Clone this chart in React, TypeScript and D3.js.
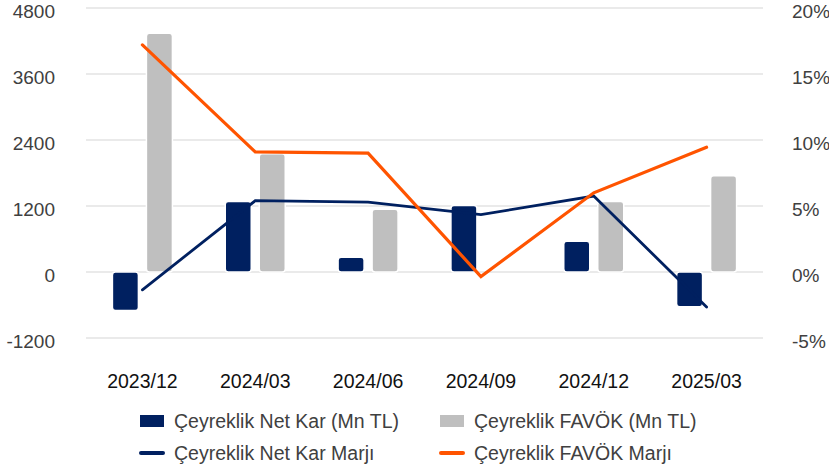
import React, { useEffect, useRef } from 'react';
import * as d3 from 'd3';

const categories = ['2023/12', '2024/03', '2024/06', '2024/09', '2024/12', '2025/03'];
const netKar = [-700, 1280, 270, 1210, 560, -630];
const favok = [4340, 2150, 1140, 0, 1280, 1750];
const netKarMarji = [-1.35, 5.4, 5.3, 4.35, 5.75, -2.65];
const favokMarji = [17.2, 9.1, 9.0, -0.35, 6.0, 9.45];
const leftTicks = [-1200, 0, 1200, 2400, 3600, 4800];
const rightTicks = [-5, 0, 5, 10, 15, 20];

const NAVY = '#002060';
const GREY = '#bfbfbf';
const ORANGE = '#ff5400';
const FONT = '"Liberation Sans", Arial, sans-serif';

const App = () => {
  const svgRef = useRef(null);
  const width = 829;
  const height = 472;

  useEffect(() => {
    const svg = d3.select(svgRef.current);
    svg.selectAll('*').remove();

    const x = d3.scaleBand().domain(categories).range([86, 763]);
    const yLeft = d3.scaleLinear().domain([-1200, 4800]).range([338, 8]);
    const yRight = d3.scaleLinear().domain([-5, 20]).range([338, 8]);
    const cx = (c) => x(c) + x.bandwidth() / 2;

    // gridlines
    svg.append('g')
      .selectAll('line')
      .data(leftTicks)
      .enter()
      .append('line')
      .attr('x1', 86)
      .attr('x2', 763)
      .attr('y1', d => yLeft(d))
      .attr('y2', d => yLeft(d))
      .attr('stroke', '#e3e3e3')
      .attr('stroke-width', 1.5);

    // left axis labels
    svg.append('g')
      .selectAll('text')
      .data(leftTicks)
      .enter()
      .append('text')
      .attr('x', 55)
      .attr('y', d => yLeft(d) + 3)
      .attr('text-anchor', 'end')
      .attr('dominant-baseline', 'central')
      .attr('font-family', FONT)
      .attr('font-size', 19)
      .attr('fill', '#404040')
      .text(d => d);

    // right axis labels
    svg.append('g')
      .selectAll('text')
      .data(rightTicks)
      .enter()
      .append('text')
      .attr('x', 792)
      .attr('y', d => yRight(d) + 3)
      .attr('text-anchor', 'start')
      .attr('dominant-baseline', 'central')
      .attr('font-family', FONT)
      .attr('font-size', 19)
      .attr('fill', '#404040')
      .text(d => `${d}%`);

    // x labels
    svg.append('g')
      .selectAll('text')
      .data(categories)
      .enter()
      .append('text')
      .attr('x', d => cx(d))
      .attr('y', 381)
      .attr('text-anchor', 'middle')
      .attr('dominant-baseline', 'central')
      .attr('font-family', FONT)
      .attr('font-size', 19.5)
      .attr('fill', '#111')
      .text(d => d);

    const barW = 26;

    // Net Kar bars
    svg.append('g')
      .selectAll('rect')
      .data(categories.map((c, i) => ({ c, v: netKar[i] })))
      .enter()
      .append('rect')
      .attr('x', d => cx(d.c) - 30)
      .attr('y', d => yLeft(Math.max(0, d.v)))
      .attr('width', barW)
      .attr('height', d => Math.abs(yLeft(d.v) - yLeft(0)))
      .attr('rx', 3)
      .attr('fill', NAVY)
      .attr('stroke', '#fff')
      .attr('stroke-width', 1.5);

    // FAVÖK bars
    svg.append('g')
      .selectAll('rect')
      .data(categories.map((c, i) => ({ c, v: favok[i] })).filter(d => d.v !== 0))
      .enter()
      .append('rect')
      .attr('x', d => cx(d.c) + 4)
      .attr('y', d => yLeft(Math.max(0, d.v)))
      .attr('width', barW)
      .attr('height', d => Math.abs(yLeft(d.v) - yLeft(0)))
      .attr('rx', 3)
      .attr('fill', GREY)
      .attr('stroke', '#fff')
      .attr('stroke-width', 1.5);

    const line = d3.line()
      .x((d, i) => cx(categories[i]))
      .y(d => yRight(d));

    svg.append('path')
      .datum(netKarMarji)
      .attr('fill', 'none')
      .attr('stroke', NAVY)
      .attr('stroke-width', 2.8)
      .attr('stroke-linecap', 'round')
      .attr('d', line);

    svg.append('path')
      .datum(favokMarji)
      .attr('fill', 'none')
      .attr('stroke', ORANGE)
      .attr('stroke-width', 3.2)
      .attr('stroke-linecap', 'round')
      .attr('d', line);

    // Legend
    const legend = [
      { label: 'Çeyreklik Net Kar (Mn TL)', color: NAVY, type: 'bar', lx: 140, ly: 421 },
      { label: 'Çeyreklik FAVÖK (Mn TL)', color: GREY, type: 'bar', lx: 440, ly: 421 },
      { label: 'Çeyreklik Net Kar Marjı', color: NAVY, type: 'line', lx: 140, ly: 453 },
      { label: 'Çeyreklik FAVÖK Marjı', color: ORANGE, type: 'line', lx: 440, ly: 453 },
    ];

    const lg = svg.append('g')
      .selectAll('g')
      .data(legend)
      .enter()
      .append('g');

    lg.filter(d => d.type === 'bar')
      .append('rect')
      .attr('x', d => d.lx)
      .attr('y', d => d.ly - 6)
      .attr('width', 24)
      .attr('height', 12)
      .attr('fill', d => d.color);

    lg.filter(d => d.type === 'line')
      .append('line')
      .attr('x1', d => d.lx + 1)
      .attr('x2', d => d.lx + 23)
      .attr('y1', d => d.ly)
      .attr('y2', d => d.ly)
      .attr('stroke', d => d.color)
      .attr('stroke-width', 4)
      .attr('stroke-linecap', 'round');

    lg.append('text')
      .attr('x', d => d.lx + 34)
      .attr('y', d => d.ly)
      .attr('dominant-baseline', 'central')
      .attr('font-family', FONT)
      .attr('font-size', 19.5)
      .attr('fill', '#404040')
      .text(d => d.label);
  }, []);

  return (
    <svg
      ref={svgRef}
      width={width}
      height={height}
      style={{ position: 'absolute', left: 0, top: 0, background: '#fff' }}
    />
  );
};

export default App;
